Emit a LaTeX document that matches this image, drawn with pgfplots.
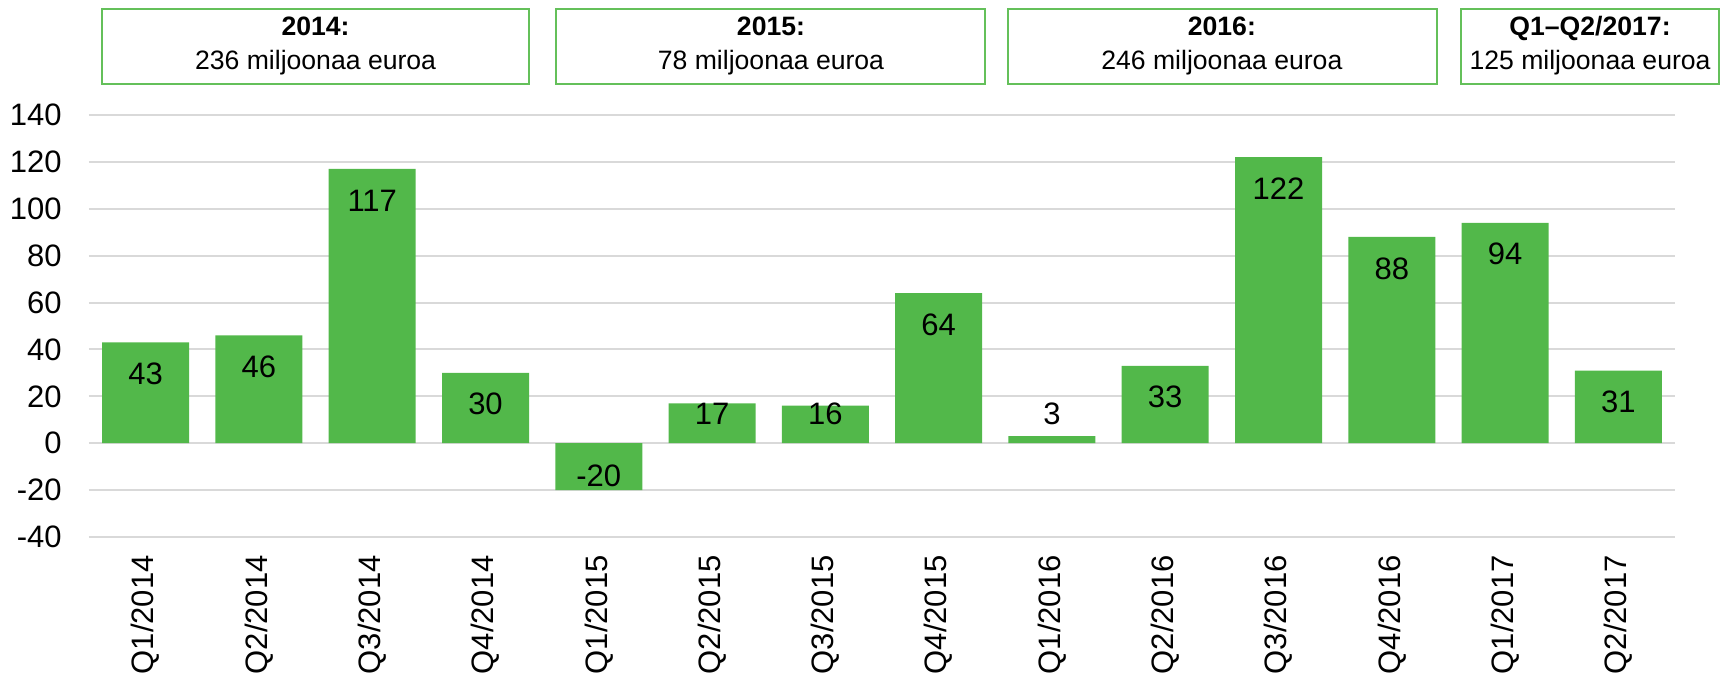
\documentclass[border=0pt]{standalone}
\usepackage{fontspec}
\setmainfont{Liberation Sans}
\usepackage{pgfplots}
\pgfplotsset{compat=1.18}
\usepackage{pgfplotstable}

\definecolor{barGreen}{RGB}{82,184,74}
\definecolor{boxGreen}{RGB}{100,192,90}
\definecolor{gridGray}{RGB}{217,217,217}

% quarterly values, million euro
\pgfplotstableread{
x y
0 43
1 46
2 117
3 30
4 -20
5 17
6 16
7 64
8 3
9 33
10 122
11 88
12 94
13 31
}\bars

% where the value labels sit
\pgfplotstableread{
x ly lab
0 29.6 43
1 32.6 46
2 103.6 117
3 16.6 30
4 -13.7 -20
5 12.4 17
6 12.4 16
7 50.6 64
8 12.4 3
9 19.6 33
10 108.6 122
11 74.6 88
12 80.6 94
13 17.6 31
}\labels

\newcommand\lblfont{\fontsize{15.5}{18}\selectfont}

\begin{document}
\begin{tikzpicture}
\begin{axis}[
    at={(0,0)}, anchor=south west,
    width=793pt, height=211pt,
    scale only axis,
    clip=false,
    xmin=-0.5, xmax=13.5,
    ymin=-40, ymax=140,
    ytick={-40,-20,...,140},
    xtick={0,...,13},
    xticklabels={Q1/2014,Q2/2014,Q3/2014,Q4/2014,Q1/2015,Q2/2015,Q3/2015,Q4/2015,
                 Q1/2016,Q2/2016,Q3/2016,Q4/2016,Q1/2017,Q2/2017},
    ymajorgrids,
    grid style={gridGray, line width=1pt},
    axis line style={draw=none},
    major tick length=0pt,
    /pgf/number format/assume math mode=true,
    tick label style={font=\lblfont, inner sep=0pt},
    yticklabel style={anchor=east, xshift=-13.5pt},
    xticklabel style={rotate=90, anchor=east, xshift=-9pt},
]
\addplot[ybar, bar width=43.5pt, fill=barGreen, draw=none] table[x=x, y=y] {\bars};
\addplot[draw=none, mark=none, nodes near coords, point meta=explicit symbolic,
    every node near coord/.append style={anchor=center, inner sep=0pt, font=\lblfont}]
    table[x=x, y=ly, meta=lab] {\labels};

\draw[boxGreen, line width=1pt] (axis cs:-0.384,153.2) rectangle (axis cs:3.385,185.4);
\draw[boxGreen, line width=1pt] (axis cs:3.623,153.2) rectangle (axis cs:7.41,185.4);
\draw[boxGreen, line width=1pt] (axis cs:7.61,153.2) rectangle (axis cs:11.40,185.4);
\draw[boxGreen, line width=1pt] (axis cs:11.615,153.2) rectangle (axis cs:13.89,185.4);
\begin{scope}[every node/.style={align=center, font=\fontsize{13.3}{17}\selectfont}]
\node at (axis cs:1.5,169.4) {\textbf{2014:}\\236 miljoonaa euroa};
\node at (axis cs:5.52,169.4) {\textbf{2015:}\\78 miljoonaa euroa};
\node at (axis cs:9.5,169.4) {\textbf{2016:}\\246 miljoonaa euroa};
\node at (axis cs:12.75,169.4) {\textbf{Q1--Q2/2017:}\\125 miljoonaa euroa};
\end{scope}
\end{axis}
\pgfresetboundingbox
\path[use as bounding box] (-44.5pt,-71.5pt) rectangle (817pt,268.5pt);
\end{tikzpicture}
\end{document}
